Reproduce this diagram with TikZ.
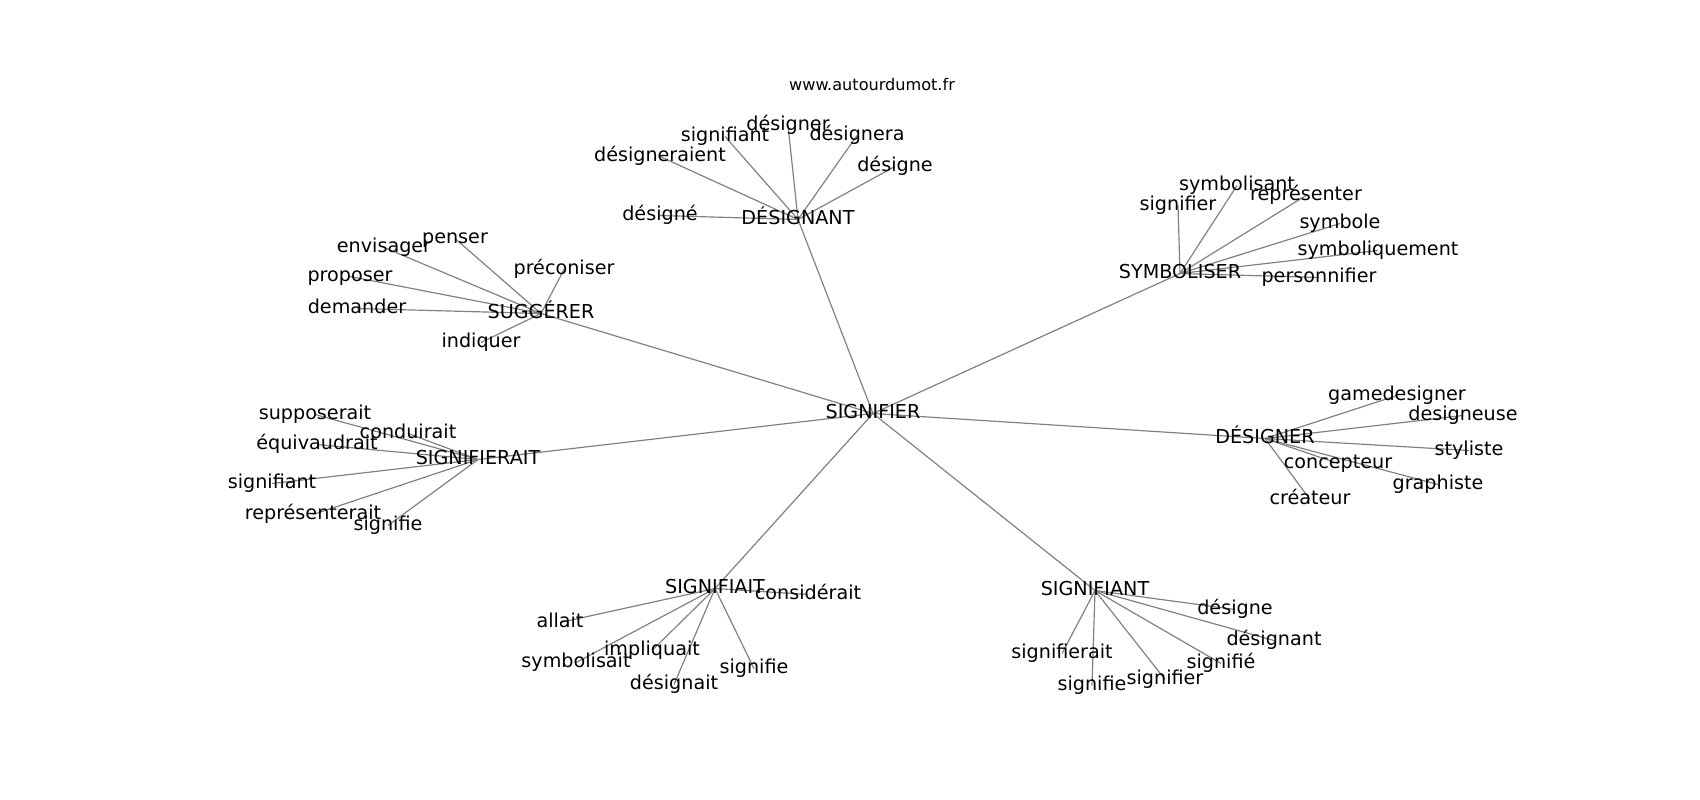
\documentclass[tikz,border=0pt]{standalone}
\usepackage{fontspec}
\setmainfont{DejaVu Sans}
\usetikzlibrary{backgrounds}
\tikzset{
  lbl/.style={inner sep=0pt, anchor=center, font=\fontsize{13.8bp}{16bp}\selectfont, text height=1.45ex, text depth=0pt},
  ttl/.style={inner sep=0pt, anchor=center, font=\fontsize{11.6bp}{14bp}\selectfont, text height=1.45ex, text depth=0pt},
  edge/.style={draw=gray, line width=0.85bp}
}
\begin{document}
\begin{tikzpicture}[x=0.72bp,y=-0.72bp]
\useasboundingbox (0,0) rectangle (1700,800);
\begin{scope}[shift={(0,2.5)}]
\node[ttl] (title) at (872,83) {www.autourdumot.fr};
% hubs
\node[lbl] (sig) at (873,411) {SIGNIFIER};
\node[lbl] (dnt) at (798,217) {DÉSIGNANT};
\node[lbl] (sug) at (541,311) {SUGGÉRER};
\node[lbl] (sym) at (1180,271) {SYMBOLISER};
\node[lbl] (srt) at (478,457) {SIGNIFIERAIT};
\node[lbl] (dgr) at (1265,436) {DÉSIGNER};
\node[lbl] (sft) at (715,586) {SIGNIFIAIT};
\node[lbl] (snt) at (1095,588) {SIGNIFIANT};
% DESIGNANT
\node[lbl] (a1) at (660,213) {désigné};
\node[lbl] (a2) at (660,154) {désigneraient};
\node[lbl] (a3) at (725,134) {signifiant};
\node[lbl] (a4) at (788,123) {désigner};
\node[lbl] (a5) at (857,133) {désignera};
\node[lbl] (a6) at (895,164) {désigne};
% SUGGERER
\node[lbl] (b1) at (384,245) {envisager};
\node[lbl] (b2) at (455,236) {penser};
\node[lbl] (b3) at (350,274) {proposer};
\node[lbl] (b4) at (357,306) {demander};
\node[lbl] (b5) at (564,267) {préconiser};
\node[lbl] (b6) at (481,340) {indiquer};
% SYMBOLISER
\node[lbl] (c1) at (1178,203) {signifier};
\node[lbl] (c2) at (1237,183) {symbolisant};
\node[lbl] (c3) at (1306,193) {représenter};
\node[lbl] (c4) at (1340,221) {symbole};
\node[lbl] (c5) at (1378,248) {symboliquement};
\node[lbl] (c6) at (1319,275) {personnifier};
% SIGNIFIERAIT
\node[lbl] (d1) at (315,412) {supposerait};
\node[lbl] (d2) at (408,431) {conduirait};
\node[lbl] (d3) at (317,442) {équivaudrait};
\node[lbl] (d4) at (272,481) {signifiant};
\node[lbl] (d5) at (313,512) {représenterait};
\node[lbl] (d6) at (388,523) {signifie};
% DESIGNER
\node[lbl] (e1) at (1397,393) {gamedesigner};
\node[lbl] (e2) at (1463,413) {designeuse};
\node[lbl] (e3) at (1469,448) {styliste};
\node[lbl] (e4) at (1338,461) {concepteur};
\node[lbl] (e5) at (1438,482) {graphiste};
\node[lbl] (e6) at (1310,497) {créateur};
% SIGNIFIAIT
\node[lbl] (f1) at (808,592) {considérait};
\node[lbl] (f2) at (560,620) {allait};
\node[lbl] (f3) at (652,648) {impliquait};
\node[lbl] (f4) at (576,660) {symbolisait};
\node[lbl] (f5) at (674,682) {désignait};
\node[lbl] (f6) at (754,666) {signifie};
% SIGNIFIANT
\node[lbl] (g1) at (1235,607) {désigne};
\node[lbl] (g2) at (1274,638) {désignant};
\node[lbl] (g3) at (1221,661) {signifié};
\node[lbl] (g4) at (1165,677) {signifier};
\node[lbl] (g5) at (1092,683) {signifie};
\node[lbl] (g6) at (1062,651) {signifierait};
\end{scope}
\begin{scope}[on background layer]
\fill[white] (0,0) rectangle (1700,800);
\foreach \h in {dnt,sug,sym,srt,dgr,sft,snt} \draw[edge] (sig.center) -- (\h.center);
\foreach \n in {a1,a2,a3,a4,a5,a6} \draw[edge] (dnt.center) -- (\n.center);
\foreach \n in {b1,b2,b3,b4,b5,b6} \draw[edge] (sug.center) -- (\n.center);
\foreach \n in {c1,c2,c3,c4,c5,c6} \draw[edge] (sym.center) -- (\n.center);
\foreach \n in {d1,d2,d3,d4,d5,d6} \draw[edge] (srt.center) -- (\n.center);
\foreach \n in {e1,e2,e3,e4,e5,e6} \draw[edge] (dgr.center) -- (\n.center);
\foreach \n in {f1,f2,f3,f4,f5,f6} \draw[edge] (sft.center) -- (\n.center);
\foreach \n in {g1,g2,g3,g4,g5,g6} \draw[edge] (snt.center) -- (\n.center);
\end{scope}
\end{tikzpicture}
\end{document}
